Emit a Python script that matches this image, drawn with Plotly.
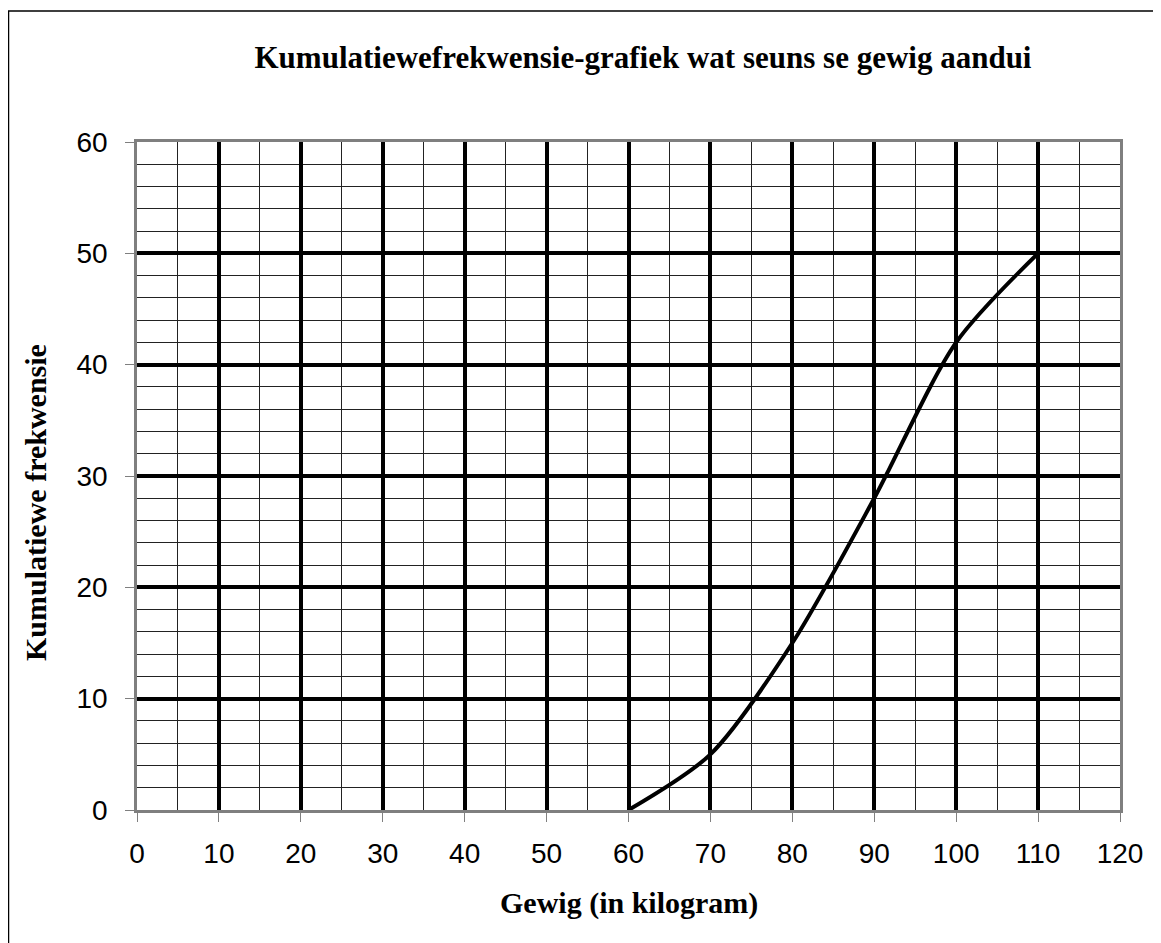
import plotly.graph_objects as go

# Data
weights = [60, 70, 80, 90, 100, 110]
cum_freq = [0, 5, 15, 28, 42, 50]
x_ticks = [0, 10, 20, 30, 40, 50, 60, 70, 80, 90, 100, 110, 120]
y_ticks = [0, 10, 20, 30, 40, 50, 60]

title_text = "Kumulatiewefrekwensie-grafiek wat seuns se gewig aandui"
x_title = "Gewig (in kilogram)"
y_title = "Kumulatiewe frekwensie"

# figure is placed 8px in from the page corner (default body margin)
W, H = 1153, 935
L, T = 129, 134
R, B = W - 1112, H - 802
pw, ph = W - L - R, H - T - B

serif = "Liberation Serif, Times New Roman, serif"
sans = "Liberation Sans, Arial, sans-serif"

fig = go.Figure()
fig.add_trace(go.Scatter(
    x=weights, y=cum_freq, mode="lines",
    line=dict(color="black", width=4, shape="spline", smoothing=0.8),
    showlegend=False, hoverinfo="x+y",
))

axis_common = dict(
    showline=True, linecolor="#7f7f7f", linewidth=2.5, mirror=True,
    ticks="outside", ticklen=9, tickcolor="#7f7f7f", tickwidth=1,
    showgrid=True, gridcolor="black", gridwidth=4,
    zeroline=False,
    tickfont=dict(family=sans, size=28, color="black"),
)

fig.update_layout(
    width=W, height=H, autosize=False,
    margin=dict(l=L, r=R, t=T, b=B),
    paper_bgcolor="white", plot_bgcolor="white",
    title=dict(
        text=f"<b>{title_text}</b>",
        font=dict(family=serif, size=31, color="black"),
        xref="paper", x=(635 - L) / pw, xanchor="center",
        yref="container", y=1 - 49 / H, yanchor="middle",
    ),
    xaxis=dict(
        range=[0, 120], tickvals=x_ticks, ticktext=[str(v) for v in x_ticks],
        minor=dict(dtick=5, showgrid=True, gridcolor="#222222", gridwidth=1, ticks=""),
        ticklabelstandoff=8,
        **axis_common,
    ),
    yaxis=dict(
        range=[0, 60], tickvals=y_ticks, ticktext=[str(v) for v in y_ticks],
        minor=dict(dtick=2, showgrid=True, gridcolor="#222222", gridwidth=1, ticks=""),
        ticklabelstandoff=12,
        **axis_common,
    ),
    annotations=[
        dict(text=f"<b>{x_title}</b>", xref="paper", yref="paper",
             x=(620.5 - L) / pw, y=(802 - 895) / ph, xanchor="center", yanchor="middle",
             showarrow=False, font=dict(family=serif, size=30, color="black")),
        dict(text=f"<b>{y_title}</b>", xref="paper", yref="paper", textangle=-90,
             x=(27 - L) / pw, y=(802 - 495) / ph, xanchor="center", yanchor="middle",
             showarrow=False, font=dict(family=serif, size=30, color="black")),
    ],
    shapes=[dict(
        type="rect", xref="paper", yref="paper",
        x0=(0.5 - L) / pw, x1=(W + 20 - L) / pw,
        y0=-(B + 20) / ph, y1=(802 - 3) / ph,
        line=dict(color="black", width=1.5), fillcolor="rgba(0,0,0,0)", layer="below",
    )],
)

fig.write_html("out.html")
